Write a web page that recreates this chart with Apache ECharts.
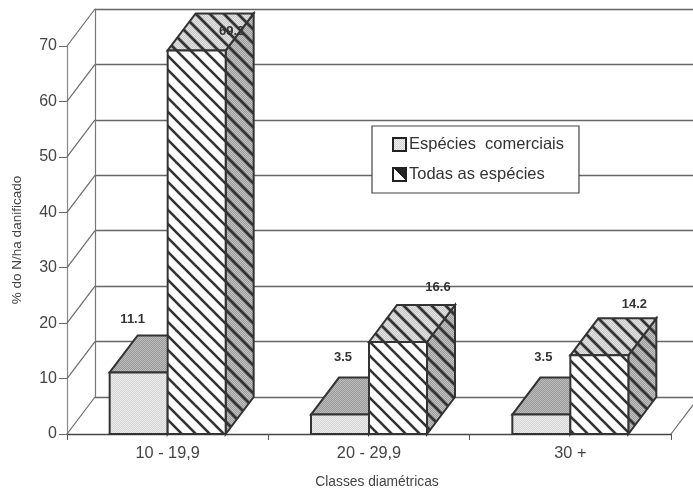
<!DOCTYPE html>
<html><head><meta charset="utf-8">
<style>html,body{margin:0;padding:0;background:#fff}#c{width:693px;height:489px}</style>
<script src="https://cdn.jsdelivr.net/npm/echarts@6/dist/echarts.min.js"></script>
</head><body><div id="c"></div>
<script>
const categories = ['10 - 19,9', '20 - 29,9', '30 +'];
const comerciais = [11.1, 3.5, 3.5];
const todas = [69.2, 16.6, 14.2];
const yTicks = [0, 10, 20, 30, 40, 50, 60, 70];
const nameA = 'Espécies  comerciais';
const nameB = 'Todas as espécies';

const DX = 28, DY = -37, BAR = 58;
const INK = '#333', LINE = '#6a6a6a', TEXT = '#444';
const nudgeA = [[-34, -16], [-25, -20], [-26, -20]];
const nudgeB = [[7, 18], [12, -18], [7, -14]];

function tile(bg, dotted, stripe) {
  const s = 14, c = document.createElement('canvas');
  c.width = c.height = s;
  const g = c.getContext('2d');
  g.fillStyle = '#fff'; g.fillRect(0, 0, s, s);
  if (bg) {
    for (let x = 0; x < s; x++) for (let y = 0; y < s; y++) {
      g.fillStyle = (x + y) % 2 ? bg : dotted;
      g.fillRect(x, y, 1, 1);
    }
  }
  if (stripe) {
    g.strokeStyle = INK; g.lineWidth = stripe;
    for (const o of [-s, 0, s]) {
      g.beginPath(); g.moveTo(o - 2, -2); g.lineTo(o + s + 2, s + 2); g.stroke();
    }
  }
  return { image: c, repeat: 'repeat' };
}
const fills = {
  aFront: tile('#d4d4d4', '#ececec'),
  aTop: tile('#9a9a9a', '#bcbcbc'),
  aSide: tile('#9a9a9a', '#bcbcbc'),
  bFront: tile(null, null, 2.6),
  bTop: tile('#c4c4c4', '#e6e6e6', 2.8),
  bSide: tile('#9a9a9a', '#c4c4c4', 3)
};

function barGeom(slot, api) {
  const i = api.value(0), v = api.value(1);
  const p = api.coord([i, v]), o = api.coord([i, 0]);
  const x0 = p[0] + slot * BAR;
  return { x0, x1: x0 + BAR, yT: p[1], yB: o[1] };
}
function barRender(slot, front, top, side) {
  return function (params, api) {
    const { x0, x1, yT, yB } = barGeom(slot, api);
    const poly = (pts, fill) => ({
      type: 'polygon', shape: { points: pts },
      style: { fill, stroke: INK, lineWidth: 2, lineJoin: 'miter' }
    });
    return {
      type: 'group',
      children: [
        poly([[x1, yT], [x1 + DX, yT + DY], [x1 + DX, yB + DY], [x1, yB]], side),
        poly([[x0, yT], [x0 + DX, yT + DY], [x1 + DX, yT + DY], [x1, yT]], top),
        poly([[x0, yT], [x1, yT], [x1, yB], [x0, yB]], front)
      ]
    };
  };
}
function labelRender(slot, nudge) {
  return function (params, api) {
    const { x0, x1, yT } = barGeom(slot, api);
    const n = nudge[params.dataIndex];
    return {
      type: 'text',
      style: {
        x: (x0 + x1) / 2 + DX + n[0], y: yT + DY + n[1],
        text: api.value(1).toFixed(1), align: 'center', verticalAlign: 'middle',
        font: 'bold 13px "Liberation Sans", Arial, sans-serif', fill: '#333'
      }
    };
  };
}

const chart = echarts.init(document.getElementById('c'), null, { renderer: 'canvas' });
chart.setOption({
  animation: false,
  backgroundColor: '#fff',
  textStyle: { fontFamily: '"Liberation Sans", Arial, sans-serif' },
  grid: [
    { left: 67, top: 46, width: 604, height: 388, outerBoundsMode: 'none' },
    { left: 95, top: 9, width: 604, height: 388, outerBoundsMode: 'none' }
  ],
  xAxis: [
    {
      type: 'category', gridIndex: 0, data: categories,
      name: 'Classes diamétricas', nameLocation: 'middle', nameGap: 41,
      nameTextStyle: { fontSize: 13.8, color: TEXT, padding: [0, 0, 0, 16] },
      axisLine: { lineStyle: { color: '#444', width: 1.4 } },
      axisTick: { show: true, length: 6, lineStyle: { color: '#555' } },
      axisLabel: { fontSize: 16.3, color: TEXT, margin: 12 }
    },
    { type: 'category', gridIndex: 1, data: categories, show: false }
  ],
  yAxis: [
    {
      type: 'value', gridIndex: 0, min: 0, max: 70, interval: 10,
      name: '% do N/ha danificado', nameLocation: 'middle', nameGap: 43,
      nameTextStyle: { fontSize: 13.5, color: TEXT },
      axisLine: { show: true, lineStyle: { color: '#888', width: 1.2 } },
      axisTick: { show: true, length: 8, lineStyle: { color: '#666' } },
      axisLabel: { fontSize: 16, color: TEXT, margin: 10 },
      splitLine: { show: false }
    },
    {
      type: 'value', gridIndex: 1, min: 0, max: 70, interval: 10,
      axisLabel: { show: false }, axisTick: { show: false },
      axisLine: { show: true, lineStyle: { color: '#777', width: 1.2 } },
      splitLine: { show: true, lineStyle: { color: '#666', width: 1.3 } }
    }
  ],
  legend: {
    orient: 'vertical', left: 372, top: 126, selectedMode: false,
    backgroundColor: '#fff', borderColor: '#444', borderWidth: 1.2, borderRadius: 0,
    padding: [10, 15, 10, 20], itemGap: 13, itemWidth: 13, itemHeight: 13,
    textStyle: { fontSize: 16.5, color: '#333', padding: [0, 0, 0, -2] },
    data: [
      { name: nameA, icon: 'rect', itemStyle: { color: fills.aFront, borderColor: '#222', borderWidth: 2 } },
      {
        name: nameB, icon: 'rect',
        itemStyle: {
          color: { type: 'linear', x: 1, y: 0, x2: 0, y2: 1, colorStops: [
            { offset: 0, color: '#222' }, { offset: .5, color: '#222' },
            { offset: .5, color: '#fff' }, { offset: 1, color: '#fff' } ] },
          borderColor: '#222', borderWidth: 2
        }
      }
    ]
  },
  series: [
    {
      type: 'custom', name: 'walls', xAxisIndex: 0, yAxisIndex: 0, silent: true, z: 1,
      data: yTicks.map(t => [0, t]),
      renderItem(params, api) {
        const t = api.value(1), y = api.coord([0, t])[1];
        const cs = params.coordSys, lx = cs.x, rx = cs.x + cs.width;
        const lineStyle = { stroke: LINE, lineWidth: 1.2 };
        const kids = [{ type: 'line', shape: { x1: lx, y1: y, x2: lx + DX, y2: y + DY }, style: lineStyle }];
        if (t === 0) kids.push({ type: 'line', shape: { x1: rx, y1: y, x2: rx + DX, y2: y + DY }, style: lineStyle });
        return { type: 'group', children: kids };
      }
    },
    {
      type: 'custom', name: nameA, xAxisIndex: 0, yAxisIndex: 0, z: 3,
      encode: { x: 0, y: 1 },
      data: comerciais.map((v, i) => [i, v]),
      renderItem: barRender(-1, fills.aFront, fills.aTop, fills.aSide)
    },
    {
      type: 'custom', name: nameB, xAxisIndex: 0, yAxisIndex: 0, z: 4,
      encode: { x: 0, y: 1 },
      data: todas.map((v, i) => [i, v]),
      renderItem: barRender(0, fills.bFront, fills.bTop, fills.bSide)
    },
    {
      type: 'custom', name: 'labelsA', xAxisIndex: 0, yAxisIndex: 0, z: 6, silent: true,
      encode: { x: 0, y: 1 },
      data: comerciais.map((v, i) => [i, v]),
      renderItem: labelRender(-1, nudgeA)
    },
    {
      type: 'custom', name: 'labelsB', xAxisIndex: 0, yAxisIndex: 0, z: 6, silent: true,
      encode: { x: 0, y: 1 },
      data: todas.map((v, i) => [i, v]),
      renderItem: labelRender(0, nudgeB)
    }
  ]
});
</script></body></html>
